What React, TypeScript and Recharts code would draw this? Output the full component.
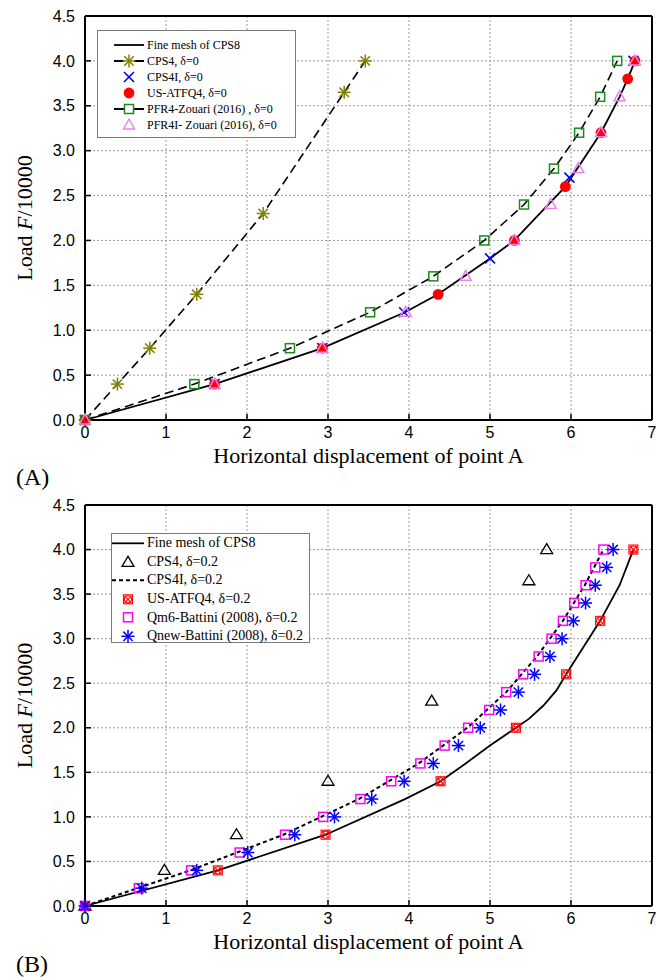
import React from 'react';
import { ScatterChart, Scatter, XAxis, YAxis, CartesianGrid, Legend } from 'recharts';

const SERIF = '"Liberation Serif", "Times New Roman", Times, serif';
const SANS = '"Liberation Sans", Arial, Helvetica, sans-serif';

const xTicks = [0, 1, 2, 3, 4, 5, 6, 7];
const yTicks = [0, 0.5, 1, 1.5, 2, 2.5, 3, 3.5, 4, 4.5];
const xTitle = 'Horizontal displacement of point A';

// (A) delta = 0
const meshAx = [0, 1.6, 2.93, 3.95, 4.36, 5.0, 5.3, 5.93, 6.37, 6.6, 6.7, 6.79];
const meshAy = [0, 0.4, 0.8, 1.2, 1.4, 1.8, 2.0, 2.6, 3.2, 3.6, 3.8, 4.0];
const cps4Ax = [0, 0.4, 0.8, 1.38, 2.2, 3.2, 3.46];
const cps4Ay = [0, 0.4, 0.8, 1.4, 2.3, 3.65, 4.0];
const cps4iAx = [0, 1.6, 2.93, 3.94, 5.0, 5.98, 6.77];
const cps4iAy = [0, 0.4, 0.8, 1.2, 1.8, 2.7, 4.0];
const atfqAx = [0, 1.6, 2.93, 4.36, 5.3, 5.93, 6.37, 6.7, 6.79];
const atfqAy = [0, 0.4, 0.8, 1.4, 2.0, 2.6, 3.2, 3.8, 4.0];
const pfr4Ax = [0, 1.35, 2.53, 3.52, 4.3, 4.93, 5.42, 5.79, 6.1, 6.36, 6.57];
const pfr4Ay = [0, 0.4, 0.8, 1.2, 1.6, 2.0, 2.4, 2.8, 3.2, 3.6, 4.0];
const pfr4iAx = [0, 1.6, 2.93, 3.96, 4.7, 5.3, 5.75, 6.09, 6.37, 6.6, 6.79];
const pfr4iAy = [0, 0.4, 0.8, 1.2, 1.6, 2.0, 2.4, 2.8, 3.2, 3.6, 4.0];

// (B) delta = 0.2
const meshBx = [0, 1.64, 2.97, 3.95, 4.39, 4.7, 5.0, 5.32, 5.48, 5.66, 5.82, 5.94, 6.36, 6.6, 6.77];
const meshBy = [0, 0.4, 0.8, 1.2, 1.4, 1.6, 1.8, 2.0, 2.1, 2.25, 2.42, 2.6, 3.2, 3.6, 4.0];
const cps4Bx = [0, 0.98, 1.87, 3.0, 4.28, 5.48, 5.7];
const cps4By = [0, 0.4, 0.8, 1.4, 2.3, 3.65, 4.0];
const cps4iBx = [0, 1.3, 2.45, 3.38, 4.12, 4.72, 5.2, 5.58, 5.9, 6.17, 6.4];
const cps4iBy = [0, 0.4, 0.8, 1.2, 1.6, 2.0, 2.4, 2.8, 3.2, 3.6, 4.0];
const atfqBx = [0, 1.64, 2.97, 4.39, 5.32, 5.94, 6.36, 6.77];
const atfqBy = [0, 0.4, 0.8, 1.4, 2.0, 2.6, 3.2, 4.0];
const qm6Bx = [0, 0.665, 1.31, 1.91, 2.47, 2.94, 3.4, 3.78, 4.14, 4.44, 4.73, 4.99, 5.2, 5.41, 5.6, 5.76, 5.9, 6.04, 6.18, 6.3, 6.4];
const qm6By = [0, 0.2, 0.4, 0.6, 0.8, 1.0, 1.2, 1.4, 1.6, 1.8, 2.0, 2.2, 2.4, 2.6, 2.8, 3.0, 3.2, 3.4, 3.6, 3.8, 4.0];
const qnewBx = [0, 0.7, 1.38, 2.01, 2.59, 3.08, 3.54, 3.94, 4.3, 4.61, 4.88, 5.13, 5.35, 5.55, 5.74, 5.89, 6.03, 6.18, 6.3, 6.44, 6.52];
const qnewBy = [0, 0.2, 0.4, 0.6, 0.8, 1.0, 1.2, 1.4, 1.6, 1.8, 2.0, 2.2, 2.4, 2.6, 2.8, 3.0, 3.2, 3.4, 3.6, 3.8, 4.0];

const legendA = [
  { label: 'Fine mesh of CPS8', kind: 'none', line: 'solid' },
  { label: 'CPS4, δ=0', kind: 'star', line: 'dash' },
  { label: 'CPS4I, δ=0', kind: 'x', line: '' },
  { label: 'US-ATFQ4, δ=0', kind: 'dot', line: '' },
  { label: 'PFR4-Zouari (2016) , δ=0', kind: 'gsquare', line: 'dash' },
  { label: 'PFR4I- Zouari (2016), δ=0', kind: 'tri', line: '' },
];
const legendB = [
  { label: 'Fine mesh of CPS8', kind: 'none', line: 'solid' },
  { label: 'CPS4, δ=0.2', kind: 'btri', line: '' },
  { label: 'CPS4I, δ=0.2', kind: 'none', line: 'short' },
  { label: 'US-ATFQ4, δ=0.2', kind: 'cross', line: '' },
  { label: 'Qm6-Battini (2008), δ=0.2', kind: 'msquare', line: '' },
  { label: 'Qnew-Battini (2008), δ=0.2', kind: 'aster', line: '' },
];

const pts = (xs: number[], ys: number[]) => xs.map((x, i) => ({ x, y: ys[i] }));

function spokes(cx: number, cy: number, r: number, color: string) {
  const d = r * 0.72;
  return (
    <g stroke={color} strokeWidth={1.5}>
      <line x1={cx - r} y1={cy} x2={cx + r} y2={cy} />
      <line x1={cx} y1={cy - r} x2={cx} y2={cy + r} />
      <line x1={cx - d} y1={cy - d} x2={cx + d} y2={cy + d} />
      <line x1={cx - d} y1={cy + d} x2={cx + d} y2={cy - d} />
    </g>
  );
}

function mark(kind: string, cx: number, cy: number) {
  switch (kind) {
    case 'star':
      return spokes(cx, cy, 6.5, '#808000');
    case 'aster':
      return spokes(cx, cy, 6.5, '#0000ff');
    case 'x':
      return (
        <g stroke="#0000ff" strokeWidth={1.6}>
          <line x1={cx - 5} y1={cy - 5} x2={cx + 5} y2={cy + 5} />
          <line x1={cx - 5} y1={cy + 5} x2={cx + 5} y2={cy - 5} />
        </g>
      );
    case 'dot':
      return <circle cx={cx} cy={cy} r={5.4} fill="#ff0000" />;
    case 'gsquare':
      return <rect x={cx - 4.5} y={cy - 4.5} width={9} height={9} fill="none" stroke="#1a8a1a" strokeWidth={1.5} />;
    case 'msquare':
      return <rect x={cx - 4.5} y={cy - 4.5} width={9} height={9} fill="none" stroke="#ff00ff" strokeWidth={1.5} />;
    case 'tri':
      return <polygon points={`${cx},${cy - 6} ${cx - 5.5},${cy + 4} ${cx + 5.5},${cy + 4}`} fill="none" stroke="#ee82ee" strokeWidth={1.5} />;
    case 'btri':
      return <polygon points={`${cx},${cy - 6} ${cx - 6},${cy + 4} ${cx + 6},${cy + 4}`} fill="none" stroke="#000" strokeWidth={1.3} />;
    case 'cross':
      return (
        <g stroke="#ff0000" strokeWidth={1.1} fill="none">
          <rect x={cx - 4.5} y={cy - 4.5} width={9} height={9} />
          <circle cx={cx} cy={cy} r={3.6} />
          <line x1={cx - 3.5} y1={cy - 3.5} x2={cx + 3.5} y2={cy + 3.5} />
          <line x1={cx - 3.5} y1={cy + 3.5} x2={cx + 3.5} y2={cy - 3.5} />
        </g>
      );
    default:
      return <g />;
  }
}

const shapeOf = (kind: string) => (p: any) => mark(kind, p.cx, p.cy);

function LegendBox({ items, fontSize, rowH, padLeft, padTop, iconW, width, height }: any) {
  return (
    <div
      style={{
        width,
        height,
        boxSizing: 'border-box',
        border: '1.5px solid #7a7a7a',
        background: '#fff',
        paddingLeft: padLeft,
        paddingTop: padTop,
        fontFamily: SERIF,
        fontSize,
        color: '#000',
      }}
    >
      {items.map((it: any) => (
        <div key={it.label} style={{ display: 'flex', alignItems: 'center', height: rowH, whiteSpace: 'nowrap' }}>
          <svg width={iconW} height={rowH} style={{ flex: 'none' }}>
            {it.line && (
              <line
                x1={0}
                y1={rowH / 2}
                x2={iconW - 3}
                y2={rowH / 2}
                stroke="#000"
                strokeWidth={it.line === 'short' ? 2 : 1.8}
                strokeDasharray={it.line === 'dash' ? '10 10' : it.line === 'short' ? '4 3' : undefined}
              />
            )}
            {mark(it.kind, (iconW - 3) / 2, rowH / 2)}
          </svg>
          <span>{it.label}</span>
        </div>
      ))}
    </div>
  );
}

function YTitle(props: any) {
  const vb = props.viewBox || { x: 0, y: 0, width: 85, height: 0 };
  const cx = (vb.x ?? 0) + 24;
  const cy = (vb.y ?? 0) + (vb.height ?? 0) / 2;
  return (
    <text
      x={cx}
      y={cy}
      transform={`rotate(-90 ${cx} ${cy})`}
      textAnchor="middle"
      dominantBaseline="central"
      fontFamily={SERIF}
      fontSize={22}
      fill="#000"
    >
      Load <tspan fontStyle="italic">F</tspan>/10000
    </text>
  );
}

const tickStyle = { fill: '#000', fontSize: 16, fontFamily: SANS };
const axisStroke = { stroke: '#000', strokeWidth: 2 };
const tickStroke = { stroke: '#000', strokeWidth: 1.5 };

// bottom axis box is 70px tall; the title baseline sits 43px under the plot edge
function frame() {
  return [
    <CartesianGrid key="grid" stroke="#9a9a9a" strokeDasharray="2 2" />,
    <XAxis
      key="xb"
      type="number"
      dataKey="x"
      domain={[0, 7]}
      ticks={xTicks}
      interval={0}
      height={70}
      tickSize={-6}
      tickMargin={13}
      tick={tickStyle}
      axisLine={axisStroke}
      tickLine={tickStroke}
      label={{ value: xTitle, position: 'insideBottom', offset: 27, style: { fontFamily: SERIF, fontSize: 22, fill: '#000' } }}
    />,
    <XAxis
      key="xt"
      xAxisId="top"
      orientation="top"
      type="number"
      dataKey="x"
      domain={[0, 7]}
      ticks={xTicks}
      interval={0}
      height={1}
      tickSize={-6}
      tick={false}
      axisLine={axisStroke}
      tickLine={tickStroke}
    />,
    <YAxis
      key="yl"
      type="number"
      dataKey="y"
      domain={[0, 4.5]}
      ticks={yTicks}
      interval={0}
      width={85}
      tickSize={-6}
      tickMargin={16}
      tick={tickStyle}
      tickFormatter={(v: number) => v.toFixed(1)}
      axisLine={axisStroke}
      tickLine={tickStroke}
      label={YTitle}
    />,
    <YAxis
      key="yr"
      yAxisId="right"
      orientation="right"
      type="number"
      dataKey="y"
      domain={[0, 4.5]}
      ticks={yTicks}
      interval={0}
      width={1}
      tickSize={-6}
      tick={false}
      axisLine={axisStroke}
      tickLine={tickStroke}
    />,
  ];
}

const dashLong = { stroke: '#000', strokeWidth: 1.6, strokeDasharray: '9 5' };
const solid = { stroke: '#000', strokeWidth: 1.8 };

export default function App() {
  return (
    <div style={{ position: 'absolute', left: 0, top: 0, width: 656, height: 980, background: '#fff' }}>
      <div style={{ position: 'absolute', left: 0, top: 0 }}>
        <ScatterChart width={656} height={490} margin={{ top: 15, right: 3, bottom: 0, left: 0 }}>
          {frame()}
          <Scatter data={pts(meshAx, meshAy)} line={solid} shape={shapeOf('none')} isAnimationActive={false} />
          <Scatter data={pts(cps4Ax, cps4Ay)} line={dashLong} shape={shapeOf('star')} isAnimationActive={false} />
          <Scatter data={pts(cps4iAx, cps4iAy)} shape={shapeOf('x')} isAnimationActive={false} />
          <Scatter data={pts(atfqAx, atfqAy)} shape={shapeOf('dot')} isAnimationActive={false} />
          <Scatter data={pts(pfr4Ax, pfr4Ay)} line={dashLong} shape={shapeOf('gsquare')} isAnimationActive={false} />
          <Scatter data={pts(pfr4iAx, pfr4iAy)} shape={shapeOf('tri')} isAnimationActive={false} />
          <Legend
            layout="vertical"
            align="center"
            verticalAlign="middle"
            wrapperStyle={{ left: 97, top: 30, width: 199 }}
            content={() => (
              <LegendBox items={legendA} fontSize={12} rowH={16} padLeft={16} padTop={6} iconW={33} width={199} height={108} />
            )}
          />
        </ScatterChart>
      </div>

      <div style={{ position: 'absolute', left: 0, top: 470 }}>
        <ScatterChart width={656} height={510} margin={{ top: 34, right: 3, bottom: 4, left: 0 }}>
          {frame()}
          <Scatter data={pts(meshBx, meshBy)} line={solid} shape={shapeOf('none')} isAnimationActive={false} />
          <Scatter data={pts(cps4Bx, cps4By)} shape={shapeOf('btri')} isAnimationActive={false} />
          <Scatter
            data={pts(cps4iBx, cps4iBy)}
            line={{ stroke: '#000', strokeWidth: 2, strokeDasharray: '4 3' }}
            shape={shapeOf('none')}
            isAnimationActive={false}
          />
          <Scatter data={pts(atfqBx, atfqBy)} shape={shapeOf('cross')} isAnimationActive={false} />
          <Scatter data={pts(qm6Bx, qm6By)} shape={shapeOf('msquare')} isAnimationActive={false} />
          <Scatter data={pts(qnewBx, qnewBy)} shape={shapeOf('aster')} isAnimationActive={false} />
          <Legend
            layout="vertical"
            align="center"
            verticalAlign="middle"
            wrapperStyle={{ left: 111, top: 63, width: 199 }}
            content={() => (
              <LegendBox items={legendB} fontSize={14} rowH={18.6} padLeft={0} padTop={0} iconW={35} width={199} height={110} />
            )}
          />
        </ScatterChart>
      </div>
      <span style={{ position: 'absolute', left: 16, top: 463, fontFamily: SERIF, fontSize: 24, lineHeight: '28px' }}>(A)</span>
      <span style={{ position: 'absolute', left: 16, top: 950, fontFamily: SERIF, fontSize: 24, lineHeight: '28px' }}>(B)</span>
    </div>
  );
}
